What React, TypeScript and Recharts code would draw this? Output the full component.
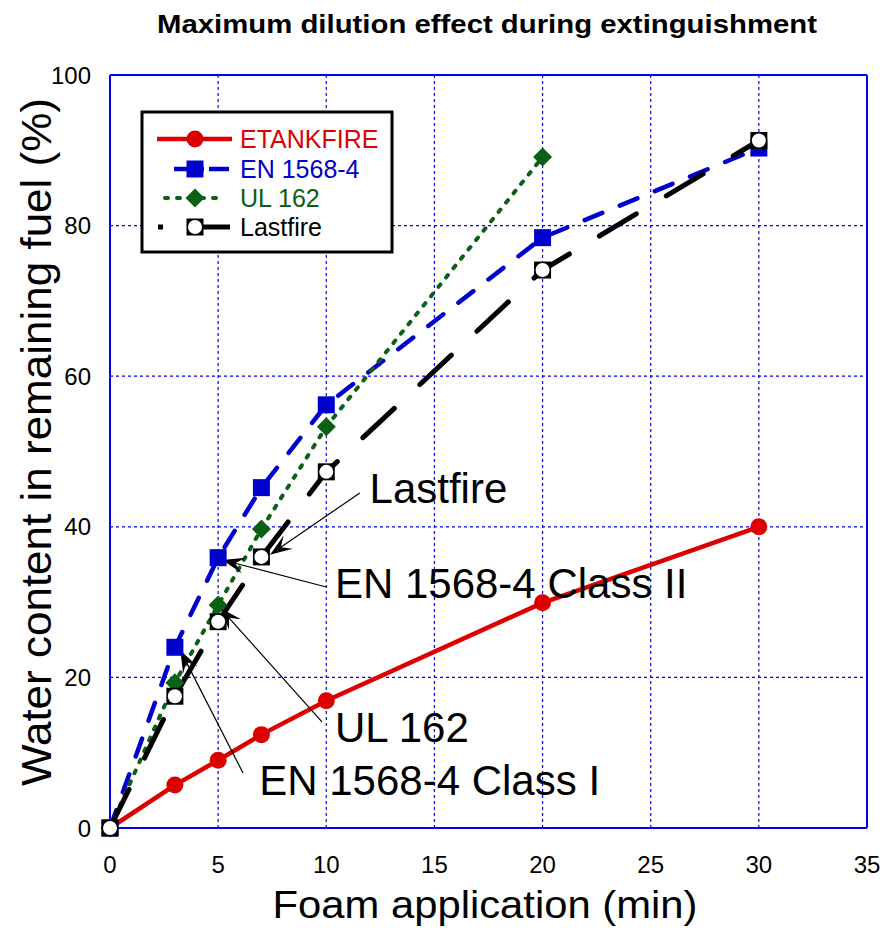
import React from 'react'
import {
  LineChart,
  Line,
  XAxis,
  YAxis,
  CartesianGrid,
  ReferenceLine,
  ReferenceDot,
} from 'recharts'

// foam application time (min)
const time = [0, 3, 5, 7, 10, 20, 30]
// water content in remaining fuel (%)
const etankfire = [0, 5.7, 9.0, 12.4, 16.9, 29.9, 40.0]
const en1568 = [0, 24.0, 35.9, 45.2, 56.2, 78.4, 90.3]
const ul162 = [0, 19.3, 29.6, 39.7, 53.3, 89.1, null]
const lastfire = [0, 17.5, 27.4, 36.0, 47.3, 74.1, 91.3]

const xTicks = [0, 5, 10, 15, 20, 25, 30, 35]
const yTicks = [0, 20, 40, 60, 80, 100]

// callouts, in data units: text anchor, arrow start, arrow tip
const callouts = [
  { text: 'Lastfire', tx: 12.0, ty: 43.2, from: [11.55, 44.5], to: [7.4, 36.3] },
  { text: 'EN 1568-4 Class II', tx: 10.4, ty: 30.5, from: [10.0, 32.0], to: [5.2, 35.6] },
  { text: 'UL 162', tx: 10.4, ty: 11.4, from: [9.8, 14.1], to: [5.1, 29.2] },
  { text: 'EN 1568-4 Class I', tx: 6.9, ty: 4.4, from: [6.15, 7.3], to: [3.25, 23.6] },
]

const FONT = '"Liberation Sans", Arial, sans-serif'
const RED = '#dd0000'
const BLUE = '#0000cc'
const GREEN = '#0b6016'
const FRAME = '#0000ff'

const data = time.map((t, i) => ({
  t,
  etankfire: etankfire[i],
  en1568: en1568[i],
  ul162: ul162[i],
  lastfire: lastfire[i],
}))

type Kind = 'circle' | 'square' | 'diamond' | 'lastfire'

const series: {
  key: string
  name: string
  color: string
  dash?: string
  width: number
  kind: Kind
}[] = [
  { key: 'etankfire', name: 'ETANKFIRE', color: RED, width: 4.5, kind: 'circle' },
  { key: 'en1568', name: 'EN 1568-4', color: BLUE, dash: '19 19', width: 4.5, kind: 'square' },
  { key: 'ul162', name: 'UL 162', color: GREEN, dash: '3 9', width: 4, kind: 'diamond' },
  { key: 'lastfire', name: 'Lastfire', color: '#000000', dash: '43 35', width: 5, kind: 'lastfire' },
]

function marker(kind: Kind, cx: number, cy: number, key?: string) {
  if (kind === 'circle') return <circle key={key} cx={cx} cy={cy} r={8.5} fill={RED} />
  if (kind === 'square')
    return <rect key={key} x={cx - 8.5} y={cy - 8.5} width={17} height={17} fill={BLUE} />
  if (kind === 'diamond') {
    const h = 9.5
    return (
      <polygon
        key={key}
        points={`${cx},${cy - h} ${cx + h},${cy} ${cx},${cy + h} ${cx - h},${cy}`}
        fill={GREEN}
      />
    )
  }
  return (
    <g key={key}>
      <rect x={cx - 8.5} y={cy - 8.5} width={17} height={17} fill="#000" />
      <circle cx={cx} cy={cy} r={7} fill="#fff" />
    </g>
  )
}

const Arrow = (p: any) => {
  const { x1, y1, x2, y2 } = p
  const dx = x1 - x2
  const dy = y1 - y2
  const d = Math.sqrt(dx * dx + dy * dy) || 1
  const ux = dx / d
  const uy = dy / d
  const len = 22
  const hw = 8
  const notch = 13
  const bx = x2 + ux * len
  const by = y2 + uy * len
  const pts = [
    `${x2},${y2}`,
    `${bx - uy * hw},${by + ux * hw}`,
    `${x2 + ux * notch},${y2 + uy * notch}`,
    `${bx + uy * hw},${by - ux * hw}`,
  ].join(' ')
  return (
    <g>
      <line x1={x1} y1={y1} x2={x2 + ux * notch} y2={y2 + uy * notch} stroke="#000" strokeWidth={1.2} />
      <polygon points={pts} fill="#000" />
    </g>
  )
}

function Legend() {
  const rows = [139, 169, 198, 227]
  const cx = 195
  return (
    <g>
      <rect x={142} y={112} width={250} height={140} fill="#fff" stroke="#000" strokeWidth={3} />
      {series.map((s, i) => {
        const y = rows[i]
        let line
        if (s.kind === 'circle')
          line = <line x1={157} y1={y} x2={232} y2={y} stroke={s.color} strokeWidth={4.5} />
        else if (s.kind === 'square')
          line = (
            <line x1={174} y1={y} x2={229} y2={y} stroke={s.color} strokeWidth={4.5} strokeDasharray="30 5 20" />
          )
        else if (s.kind === 'diamond')
          line = (
            <line
              x1={165}
              y1={y}
              x2={225}
              y2={y}
              stroke={s.color}
              strokeWidth={4}
              strokeDasharray="3 9"
              strokeLinecap="round"
            />
          )
        else
          line = (
            <g>
              <rect x={158} y={y - 2.5} width={5} height={5} fill="#000" />
              <line x1={203} y1={y} x2={230} y2={y} stroke="#000" strokeWidth={5} />
            </g>
          )
        return (
          <g key={s.key}>
            {line}
            {marker(s.kind, cx, y)}
            <text x={240} y={y + 9} fontSize={25} fontFamily={FONT} fill={s.color}>
              {s.name}
            </text>
          </g>
        )
      })}
    </g>
  )
}

export default function App() {
  return (
    <div style={{ position: 'absolute', left: 0, top: 0, width: 885, height: 929, background: '#fff' }}>
      <LineChart
        width={885}
        height={929}
        data={data}
        margin={{ top: 75, right: 18, bottom: 0, left: 0 }}
      >
        <CartesianGrid stroke={FRAME} strokeDasharray="3 3" strokeWidth={1.2} />
        <XAxis
          dataKey="t"
          type="number"
          domain={[0, 35]}
          ticks={xTicks}
          height={101}
          axisLine={{ stroke: FRAME, strokeWidth: 2 }}
          tickLine={false}
          tickMargin={22}
          tick={{ fontSize: 24, fill: '#000', fontFamily: FONT }}
          interval={0}
        />
        <YAxis
          type="number"
          domain={[0, 100]}
          ticks={yTicks}
          width={110}
          axisLine={{ stroke: FRAME, strokeWidth: 2 }}
          tickLine={false}
          tickMargin={13}
          tick={{ fontSize: 24, fill: '#000', fontFamily: FONT }}
          interval={0}
        />
        <ReferenceLine y={100} stroke={FRAME} strokeWidth={2} />
        <ReferenceLine x={35} stroke={FRAME} strokeWidth={2} />
        {series.map((s) => (
          <Line
            key={s.key}
            dataKey={s.key}
            name={s.name}
            type="linear"
            stroke={s.color}
            strokeWidth={s.width}
            strokeDasharray={s.dash}
            strokeLinecap={s.dash ? 'round' : 'butt'}
            isAnimationActive={false}
            connectNulls={false}
            dot={(p: any) =>
              p.cx == null || p.cy == null || p.value == null ? (
                <g key={`${s.key}-${p.index}`} />
              ) : (
                marker(s.kind, p.cx, p.cy, `${s.key}-${p.index}`)
              )
            }
            activeDot={false}
          />
        ))}
        {callouts.map((c) => (
          <ReferenceLine
            key={`arrow-${c.text}`}
            segment={[
              { x: c.from[0], y: c.from[1] },
              { x: c.to[0], y: c.to[1] },
            ]}
            shape={Arrow}
          />
        ))}
        {callouts.map((c) => (
          <ReferenceDot
            key={`label-${c.text}`}
            x={c.tx}
            y={c.ty}
            r={1}
            shape={(p: any) => (
              <text x={p.cx} y={p.cy} fontSize={42} fontFamily={FONT} fill="#000">
                {c.text}
              </text>
            )}
          />
        ))}
      </LineChart>
      <svg
        width={885}
        height={929}
        style={{ position: 'absolute', left: 0, top: 0, pointerEvents: 'none' }}
      >
        <text
          x={487}
          y={33}
          textAnchor="middle"
          fontSize={26}
          fontWeight="bold"
          fontFamily={FONT}
          textLength={660}
          lengthAdjust="spacingAndGlyphs"
        >
          Maximum dilution effect during extinguishment
        </text>
        <text
          x={485}
          y={918}
          textAnchor="middle"
          fontSize={38}
          fontFamily={FONT}
          textLength={425}
          lengthAdjust="spacingAndGlyphs"
        >
          Foam application (min)
        </text>
        <text
          transform="translate(51,442) rotate(-90)"
          x={0}
          y={0}
          textAnchor="middle"
          fontSize={42}
          fontFamily={FONT}
          textLength={688}
          lengthAdjust="spacingAndGlyphs"
        >
          Water content in remaining fuel (%)
        </text>
        <Legend />
      </svg>
    </div>
  )
}
